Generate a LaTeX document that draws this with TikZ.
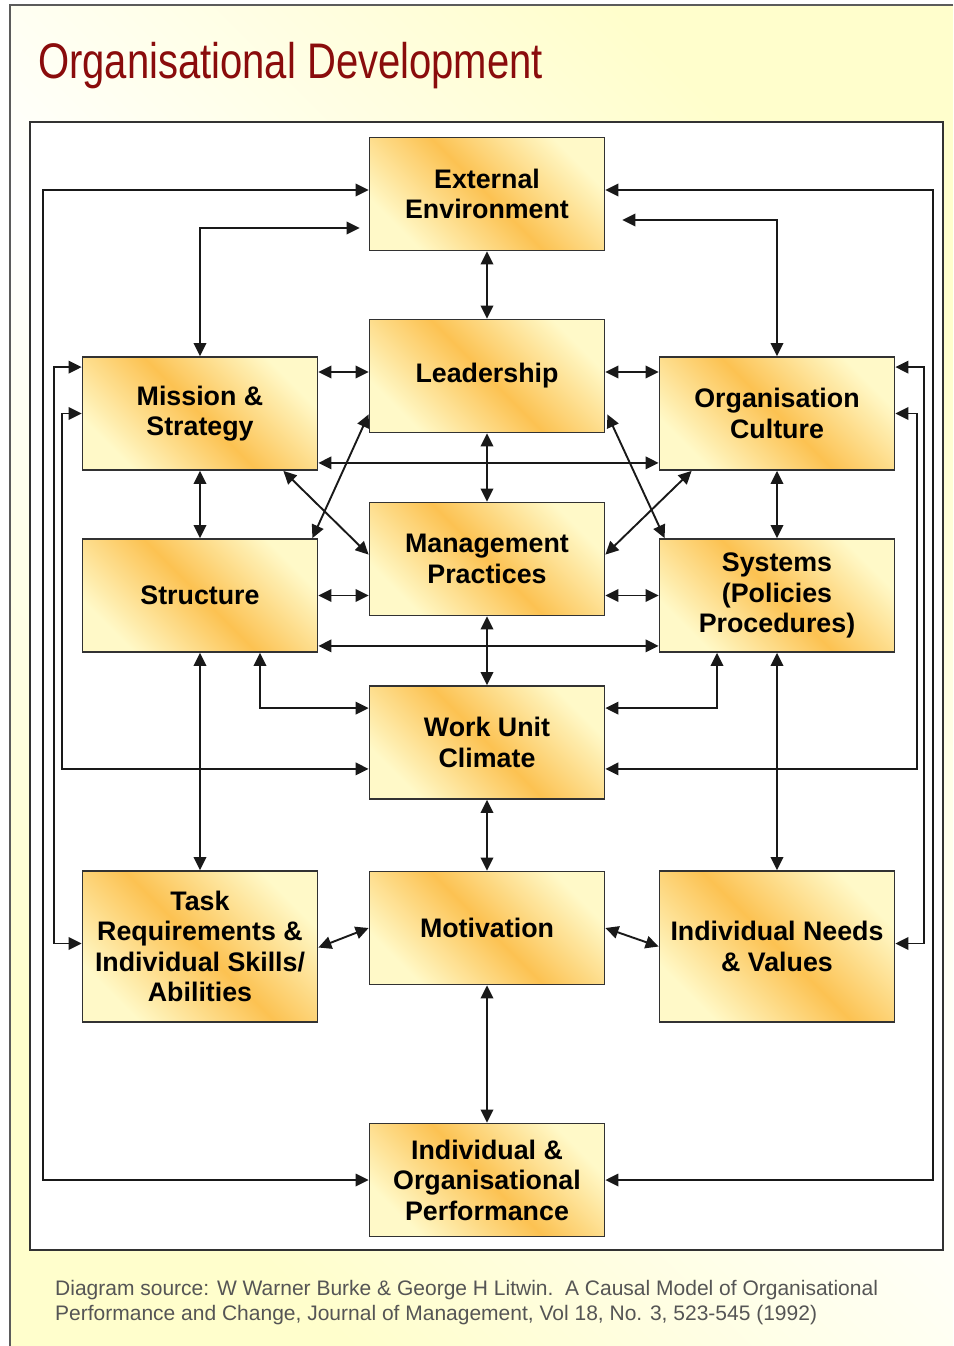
\documentclass[tikz,border=0pt]{standalone}
\usepackage{fontspec}
\setmainfont{Liberation Sans}
\newfontfamily\titlefont[FakeStretch=0.8]{Liberation Sans}
\usetikzlibrary{arrows.meta,calc}
\definecolor{boxorange}{RGB}{252,194,82}
\definecolor{boxpale}{RGB}{255,249,200}
\definecolor{pageyellow}{RGB}{255,254,204}
\definecolor{titlered}{RGB}{138,12,12}
\definecolor{linegray}{RGB}{25,25,25}
\definecolor{captiongray}{RGB}{85,85,85}
\definecolor{framegray}{RGB}{50,50,50}

\begin{document}
\begin{tikzpicture}[x=1pt,y=-1pt,
  box/.style={draw=framegray, line width=1.8pt, minimum width=235pt, minimum height=113pt,
    inner sep=2pt, align=center, font=\fontsize{26.8}{30.5}\selectfont\bfseries,
    top color=boxpale, bottom color=boxpale, middle color=boxorange, shading angle=-45},
  tall/.style={minimum height=151pt},
  link/.style={draw=linegray, line width=1.9pt,
    {Triangle[length=13pt,width=12.5pt]}-{Triangle[length=13pt,width=12.5pt]}},
]
% page and background
\useasboundingbox (0,0) rectangle (953,1346);
\fill[white] (0,0) rectangle (953,1346);
\shade[top color=pageyellow, bottom color=pageyellow, middle color=white, shading angle=-45]
  (10,5) rectangle (953,1346);
\draw[framegray!80, line width=1.5pt] (953,5) -- (10,5) -- (10,1346);

% title
\node[anchor=base west, inner sep=0, text=titlered,
  font=\titlefont\fontsize{50}{50}\selectfont] (title) at (38,78) {Organisational Development};

% white panel
\draw[fill=white, draw=framegray, line width=2pt] (30,122) rectangle (943,1250);

% model boxes
\node[box] (ext)  at (487,194)    {External\\Environment};
\node[box] (lead) at (487,376)    {Leadership};
\node[box] (mis)  at (200,413.5)  {Mission \&\\Strategy};
\node[box] (cul)  at (777,413.5)  {Organisation\\Culture};
\node[box] (man)  at (487,559)    {Management\\Practices};
\node[box] (str)  at (200,595.5)  {Structure};
\node[box] (sys)  at (777,595.5)  {Systems\\(Policies\\Procedures)};
\node[box] (wuc)  at (487,742.5)  {Work Unit\\Climate};
\node[box,tall] (task) at (200,946.5) {Task\\Requirements \&\\Individual Skills/\\Abilities};
\node[box] (mot)  at (487,928)    {Motivation};
\node[box,tall] (need) at (777,946.5) {Individual Needs\\\& Values};
\node[box] (perf) at (487,1180)   {Individual \&\\Organisational\\Performance};

% outer feedback loops
\draw[link] ($(ext.west)+(0,-4)$) -- ++(-325.5,0) |- (perf.west);
\draw[link] ($(ext.east)+(0,-4)$) -- ++(327.5,0) |- (perf.east);

% external environment links
\draw[link] (mis.north) |- ($(ext.west)+(-9,34)$);
\draw[link] (cul.north) |- ($(ext.east)+(17,26)$);
\draw[link] (ext.south) -- (lead.north);

% transformational row
\draw[link] ($(mis.east |- lead.west)+(0,-4)$) -- ($(lead.west)+(0,-4)$);
\draw[link] ($(lead.east)+(0,-4)$) -- ($(cul.west |- lead.east)+(0,-4)$);
\draw[link] ($(mis.south east)+(0,-8)$) -- ($(cul.south west)+(0,-8)$);
\draw[link] (mis.south) -- (str.north);
\draw[link] (cul.south) -- (sys.north);
\draw[link] (lead.south) -- (man.north);

% diagonals
\draw[link] ($(mis.south east)+(-35,0)$) -- ($(man.north west)+(0,53)$);
\draw[link] ($(lead.south west)+(0,-19)$) -- ($(str.north east)+(-6,0)$);
\draw[link] ($(lead.south east)+(2,-19)$) -- ($(sys.north west)+(6,0)$);
\draw[link] ($(cul.south west)+(33,0)$) -- ($(man.north east)+(0,53)$);

% transactional row
\draw[link] (str.east) -- (man.west |- str.east);
\draw[link] (man.east |- sys.west) -- (sys.west);
\draw[link] ($(str.south east)+(0,-7)$) -- ($(sys.south west)+(0,-7)$);
\draw[link] (man.south) -- (wuc.north);
\draw[link] ($(str.south)+(60,0)$) |- ($(wuc.north west)+(0,23)$);
\draw[link] ($(sys.south)+(-60,0)$) |- ($(wuc.north east)+(0,23)$);

% side loops
\draw[link] (mis.west) -- ++(-19.5,0) |- ($(wuc.south west)+(0,-31)$);
\draw[link] ($(mis.north west)+(0,11)$) -- ++(-27.5,0) |- ($(task.west)+(0,-3)$);
\draw[link] (cul.east) -- ++(21.5,0) |- ($(wuc.south east)+(0,-31)$);
\draw[link] ($(cul.north east)+(0,11)$) -- ++(28.5,0) |- ($(need.east)+(0,-3)$);

% individual level
\draw[link] (str.south) -- (task.north);
\draw[link] (wuc.south) -- (mot.north);
\draw[link] (sys.south) -- (need.north);
\draw[link] ($(task.east)+(0,1)$) -- (mot.west);
\draw[link] (mot.east) -- (need.west);
\draw[link] (mot.south) -- (perf.north);

% source note
\node[anchor=north west, inner sep=0, align=left, text=captiongray,
  font=\fontsize{21}{25}\selectfont] (source) at (55,1280)
  {Diagram source: W Warner Burke \& George H Litwin.\ \ A Causal Model of Organisational\\
   Performance and Change, Journal of Management, Vol 18, No. 3, 523-545 (1992)};
\end{tikzpicture}
\end{document}
